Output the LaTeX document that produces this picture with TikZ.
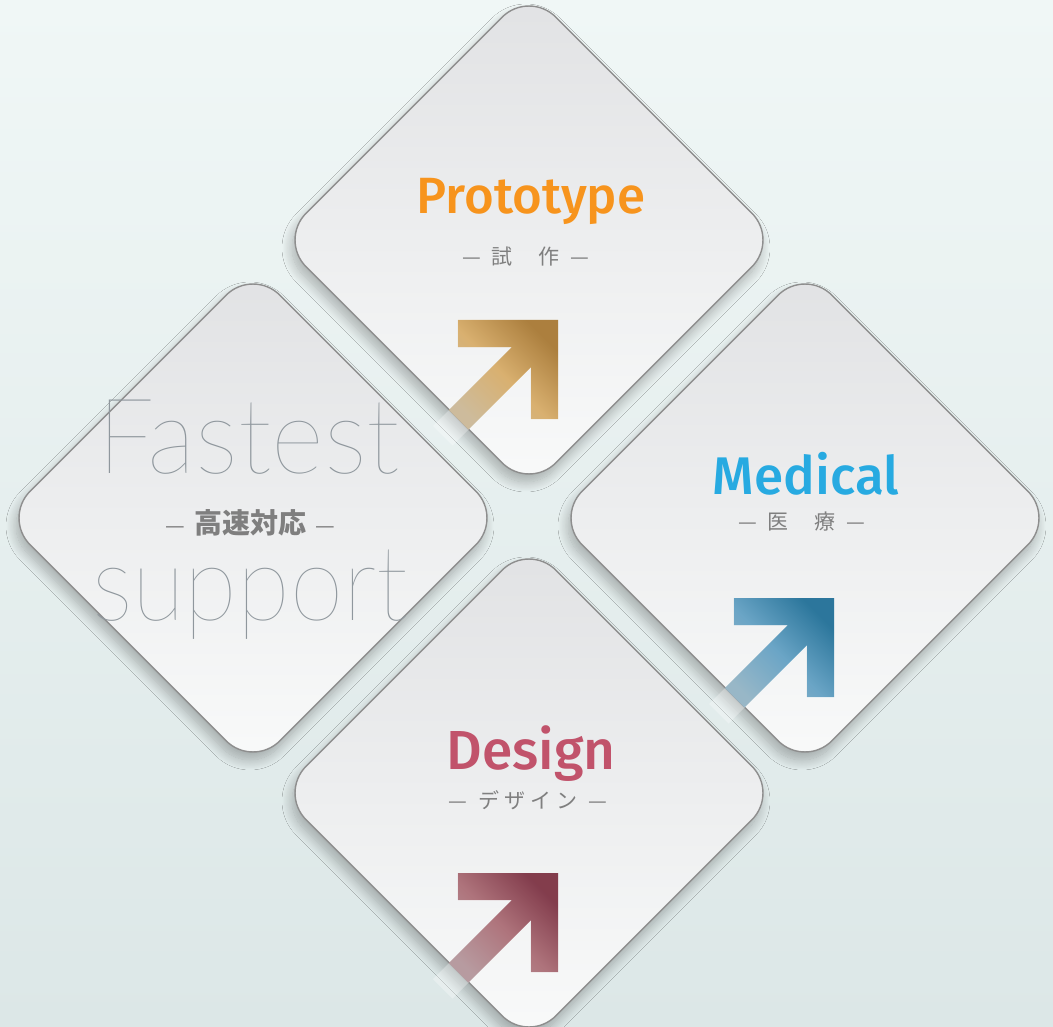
\documentclass[tikz,border=0pt]{standalone}
\usepackage{fontspec}
\usetikzlibrary{shapes.geometric,shadows.blur,fadings,positioning}
\newfontfamily\cjk{Noto Sans CJK JP}
\IfFontExistsTF{Fira Sans Medium}{\newfontfamily\titlefont{Fira Sans Medium}}{\newfontfamily\titlefont{Fira Sans}}
\IfFontExistsTF{Lato Thin}{\newfontfamily\thinfont{Lato Thin}}{%
  \IfFontExistsTF{Lato Hairline}{\newfontfamily\thinfont{Lato Hairline}}{\newfontfamily\thinfont{Lato Light}}}

\definecolor{bgtop}{HTML}{F0F7F6}
\definecolor{bgbot}{HTML}{DCE7E7}
\definecolor{tiletop}{HTML}{E1E2E4}
\definecolor{tilebot}{HTML}{F9FAFA}
\definecolor{tileedge}{HTML}{8E8E8E}
\definecolor{protoorange}{HTML}{F7941D}
\definecolor{medblue}{HTML}{27AAE1}
\definecolor{designred}{HTML}{C1536B}
\definecolor{subgray}{HTML}{7F7F7F}
\definecolor{fastgray}{HTML}{8F979D}
\definecolor{protodark}{HTML}{A5732A}
\definecolor{protomid}{HTML}{EFC47C}
\definecolor{protopale}{HTML}{DCD7C6}
\definecolor{prototint}{HTML}{B8935E}
\definecolor{meddark}{HTML}{16709B}
\definecolor{medmid}{HTML}{7DBDE0}
\definecolor{medpale}{HTML}{C9DCE3}
\definecolor{medtint}{HTML}{4F819F}
\definecolor{designdark}{HTML}{7B2D40}
\definecolor{designmid}{HTML}{C4898F}
\definecolor{designpale}{HTML}{D3CACB}
\definecolor{designtint}{HTML}{8F5560}

\tikzfading[name=armends, top color=transparent!60, middle color=transparent!100, bottom color=transparent!60]

\begin{document}
\begin{tikzpicture}[x=1pt, y=-1pt,
    tile/.style={diamond, minimum size=500pt, inner sep=0pt, rounded corners=38pt,
      draw=tileedge, line width=1.4pt, top color=tiletop, bottom color=tilebot,
      blur shadow={shadow xshift=-3pt, shadow yshift=-8pt, shadow blur radius=10pt,
        shadow blur steps=16, shadow opacity=28}},
    title/.style={font=\titlefont\fontsize{#1}{#1}\selectfont, anchor=base, inner sep=0pt},
    sub/.style={font=\cjk\fontsize{21}{21}\selectfont, text=subgray, inner sep=0pt},
    fasttext/.style={font=\thinfont\fontsize{105}{105}\selectfont, text=fastgray, anchor=base, inner sep=0pt},
    arrowshade/.style n args={4}{top color=#1, bottom color=#3, middle color=#2, shading angle=-45,
      postaction={fill=#4, path fading=armends, fading angle=-45}},
    tail/.style={fill=white, opacity=0.3}]

  \useasboundingbox (0,0) rectangle (1053,1027);
  \shade[top color=bgtop, bottom color=bgbot] (0,0) rectangle (1053,1027);

  % the four tiles
  \node[tile] (proto) at (529,240) {};
  \node[tile] (fast) at (253,518) {};
  \node[tile] (medical) at (805,518) {};
  \node[tile] (design) at (529,793) {};

  % arrows
  \foreach \c/\dk/\md/\pl/\tn in {proto/protodark/protomid/protopale/prototint,
                                 medical/meddark/medmid/medpale/medtint,
                                 design/designdark/designmid/designpale/designtint}{
    \begin{scope}[shift={(\c.center)}]
      \path[tail] (-60.5,189.5) -- (-80,170) -- (-96,186) -- (-76.5,205.5) -- cycle;
      \shade[arrowshade={\dk}{\md}{\pl}{\tn}] (-71,80) -- (29,80) -- (29,179) -- (2,179) -- (2,127)
        -- (-60.5,189.5) -- (-80,170) -- (-17,107) -- (-71,107) -- cycle;
    \end{scope}
  }

  % texts
  \node[title=51, text=protoorange] (protoTitle) at (531,214) {Prototype};
  \node[sub] (protoSub) at (526,257) {—\hspace{11pt}試\hspace{26pt}作\hspace{11pt}—};

  \node[title=53, text=medblue] (medTitle) at (806,494) {Medical};
  \node[sub] (medSub) at (802,522) {—\hspace{11pt}医\hspace{26pt}療\hspace{11pt}—};

  \node[title=55, text=designred] (designTitle) at (531,769) {Design};
  \node[sub] (designSub) at (528,800) {—\hspace{11pt}デ\hspace{5pt}ザ\hspace{5pt}イ\hspace{5pt}ン\hspace{11pt}—};

  \node[fasttext] (fastTop) at (249,473) {\scalebox{0.97}[1]{Fastest}};
  \node[fasttext] (fastBot) at (250,620) {\scalebox{0.92}[1]{support}};
  \node[sub] (fastSub) at (250,523) {{\fontsize{22}{22}\selectfont —}\hspace{9pt}{\fontsize{28}{28}\selectfont\bfseries 高速対応}\hspace{9pt}{\fontsize{22}{22}\selectfont —}};

\end{tikzpicture}
\end{document}
